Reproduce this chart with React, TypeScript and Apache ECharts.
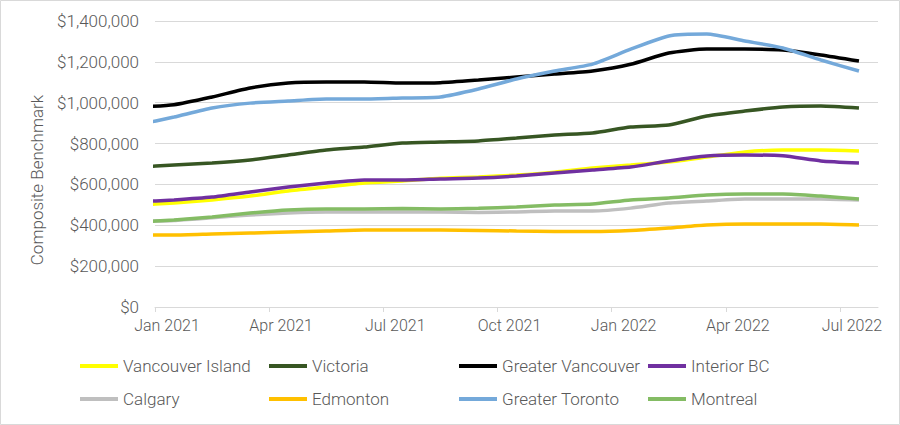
import React, { useEffect, useRef } from "react";
import * as echarts from "echarts";

// Monthly data points (mid-month), Dec 2020 .. Jul 2022; axis runs Jan 2021 .. Aug 2022
const months = [
  "Dec 2020", "Jan 2021", "Feb 2021", "Mar 2021", "Apr 2021", "May 2021", "Jun 2021",
  "Jul 2021", "Aug 2021", "Sep 2021", "Oct 2021", "Nov 2021", "Dec 2021", "Jan 2022",
  "Feb 2022", "Mar 2022", "Apr 2022", "May 2022", "Jun 2022", "Jul 2022",
];
const tickLabels = ["Jan 2021", "Apr 2021", "Jul 2021", "Oct 2021", "Jan 2022", "Apr 2022", "Jul 2022"];

const vancouverIsland = [499, 509, 524, 543, 568, 587, 607, 617, 630, 636, 646, 660, 680, 695, 710, 734, 759, 768, 768, 764];
const victoria = [685, 695, 705, 720, 744, 768, 783, 803, 808, 813, 827, 842, 852, 881, 891, 935, 959, 979, 984, 974];
const greaterVancouver = [978, 990, 1028, 1072, 1096, 1101, 1101, 1096, 1098, 1111, 1126, 1140, 1155, 1188, 1243, 1263, 1263, 1258, 1234, 1204];
const interiorBC = [514, 524, 538, 563, 587, 607, 622, 622, 627, 631, 641, 656, 671, 685, 715, 739, 744, 740, 715, 705];
const calgary = [418, 424, 437, 450, 460, 465, 465, 465, 465, 463, 465, 470, 470, 484, 509, 519, 529, 529, 529, 524];
const edmonton = [352, 352, 357, 362, 367, 372, 377, 377, 377, 375, 372, 370, 370, 375, 387, 401, 406, 406, 406, 401];
const greaterToronto = [890, 930, 974, 998, 1008, 1018, 1018, 1023, 1028, 1067, 1116, 1155, 1189, 1262, 1327, 1336, 1302, 1268, 1209, 1155];
const montreal = [416, 426, 441, 460, 475, 480, 480, 482, 480, 483, 490, 499, 504, 524, 534, 548, 553, 553, 543, 529];

const seriesDefs = [
  { name: "Vancouver Island", data: vancouverIsland, color: "#FFFF00" },
  { name: "Victoria", data: victoria, color: "#375623" },
  { name: "Greater Vancouver", data: greaterVancouver, color: "#000000" },
  { name: "Interior BC", data: interiorBC, color: "#7030A0" },
  { name: "Calgary", data: calgary, color: "#BFBFBF" },
  { name: "Edmonton", data: edmonton, color: "#FFC000" },
  { name: "Greater Toronto", data: greaterToronto, color: "#74A9DA" },
  { name: "Montreal", data: montreal, color: "#84BC64" },
];

const legendColumns = [
  ["Vancouver Island", "Calgary"],
  ["Victoria", "Edmonton"],
  ["Greater Vancouver", "Greater Toronto"],
  ["Interior BC", "Montreal"],
];
const legendLefts = [75, 264, 454, 643];

const FONT = "Roboto, 'Liberation Sans', Arial, sans-serif";
const TEXT_COLOR = "#595959";

export default function App() {
  const ref = useRef<HTMLDivElement>(null);

  useEffect(() => {
    document.body.style.margin = "0";
    if (!ref.current) return;
    const chart = echarts.init(ref.current, null, { renderer: "svg" });

    const option: any = {
      animation: false,
      backgroundColor: "#ffffff",
      grid: { left: 155, right: 22, top: 21, bottom: 118 },
      xAxis: {
        type: "value",
        min: 0,
        max: 19,
        interval: 3,
        splitLine: { show: false },
        axisLine: { show: true, lineStyle: { color: "#D9D9D9", width: 1 } },
        axisTick: {
          show: true,
          length: 5,
          lineStyle: { color: "#D9D9D9" },
          customValues: [0, 3, 6, 9, 12, 15, 18],
        },
        axisLabel: {
          customValues: [0, 3, 6, 9, 12, 15, 18],
          formatter: (v: number) => tickLabels[Math.round(v / 3)] ?? "",
          color: TEXT_COLOR,
          fontFamily: FONT,
          fontWeight: 300,
          fontSize: 16,
          margin: 10,
          padding: [0, 0, 0, 24],
        },
      },
      yAxis: {
        type: "value",
        min: 0,
        max: 1400000,
        interval: 200000,
        axisLine: { show: false },
        axisTick: { show: false },
        splitLine: { lineStyle: { color: "#D9D9D9", width: 1 } },
        axisLabel: {
          formatter: (v: number) => "$" + v.toLocaleString("en-US"),
          color: TEXT_COLOR,
          fontFamily: FONT,
          fontWeight: 300,
          fontSize: 17,
          margin: 16,
        },
      },
      legend: legendColumns.map((col, i) => ({
        orient: "vertical",
        left: legendLefts[i],
        top: 351,
        data: col,
        icon: "rect",
        itemWidth: 38,
        itemHeight: 4,
        itemGap: 13,
        selectedMode: false,
        textStyle: {
          color: TEXT_COLOR,
          fontFamily: FONT,
          fontWeight: 300,
          fontSize: 17,
          lineHeight: 20,
        },
      })),
      graphic: [
        {
          type: "rect",
          shape: { x: 0.5, y: 0.5, width: 899, height: 424 },
          style: { fill: "none", stroke: "#D9D9D9", lineWidth: 1 },
          silent: true,
        },
        {
          type: "text",
          x: 37,
          y: 180,
          rotation: Math.PI / 2,
          style: {
            text: "Composite Benchmark",
            fill: TEXT_COLOR,
            font: `300 17px ${FONT}`,
            align: "center",
            verticalAlign: "middle",
          },
        },
      ],
      series: seriesDefs.map((s) => ({
        name: s.name,
        type: "line",
        color: s.color,
        showSymbol: false,
        smooth: 0.2,
        clip: true,
        lineStyle: { color: s.color, width: 3.5 },
        itemStyle: { color: s.color },
        data: s.data.map((v, i) => [i - 0.5, v * 1000]),
      })),
    };

    chart.setOption(option);
    return () => chart.dispose();
  }, []);

  return <div ref={ref} style={{ width: 900, height: 425 }} />;
}
